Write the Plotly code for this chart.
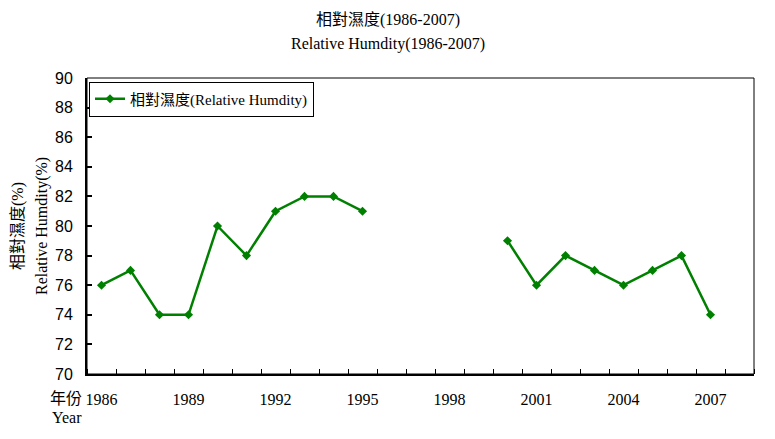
import plotly.graph_objects as go

years = list(range(1986, 2009))
humidity = [76, 77, 74, 74, 80, 78, 81, 82, 82, 81,
            None, None, None, None,
            79, 76, 78, 77, 76, 77, 78, 74, None]
tick_years = [1986, 1989, 1992, 1995, 1998, 2001, 2004, 2007]
y_ticks = list(range(70, 91, 2))

SERIF = "Liberation Serif, Noto Sans CJK TC, serif"
SANS = "Liberation Sans, Arial, sans-serif"
GREEN = "#008000"

# page body has an 8px offset
OFF = 8
W, H = 775 - OFF, 439 - OFF
PL, PR, PT, PB = 87, 754, 78, 374  # plot area in window pixels
L, T = PL - OFF, PT - OFF
R = W - (PR - OFF)
B = H - (PB - OFF)

fig = go.Figure()
fig.add_trace(go.Scatter(
    x=years, y=humidity, mode="lines+markers",
    name="相對濕度(Relative Humdity)",
    line=dict(color=GREEN, width=2.5),
    marker=dict(symbol="diamond", size=7, color=GREEN),
    connectgaps=False,
))

fig.update_layout(
    width=W, height=H,
    margin=dict(l=L, r=R, t=T, b=B, autoexpand=False),
    paper_bgcolor="white", plot_bgcolor="white",
    showlegend=True,
    legend=dict(x=0.003, y=0.988, xanchor="left", yanchor="top",
                bordercolor="black", borderwidth=1, bgcolor="white",
                font=dict(family=SERIF, size=15, color="black"),
                itemwidth=30, tracegroupgap=0),
    xaxis=dict(
        range=[1985.5, 2008.5], tickvals=tick_years,
        ticktext=[str(v) for v in tick_years],
        ticks="", showgrid=False, zeroline=False,
        showline=True, linecolor="black", linewidth=2,
        tickfont=dict(family=SERIF, size=16, color="black"),
        ticklabelstandoff=10,
        minor=dict(ticks="inside", ticklen=5, tick0=1985.5, dtick=1,
                   tickcolor="black", tickwidth=1, showgrid=False),
        fixedrange=True,
    ),
    yaxis=dict(
        range=[70, 90], tickvals=y_ticks,
        ticks="inside", ticklen=5, tickcolor="black", tickwidth=2,
        showgrid=False, zeroline=False,
        showline=True, linecolor="black", linewidth=2,
        tickfont=dict(family=SANS, size=16, color="black"),
        ticklabelstandoff=9,
        fixedrange=True,
    ),
)

fig.add_shape(type="rect", xref="paper", yref="paper", x0=0, x1=1, y0=0, y1=1,
              line=dict(color="black", width=1), layer="above")


def px_x(x):
    return (x - PL) / (PR - PL)


def px_y(y):
    return (PB - y) / (PB - PT)


annos = [
    dict(text="相對濕度(1986-2007)", x=388, y=20),
    dict(text="Relative Humdity(1986-2007)", x=388, y=44),
    dict(text="年份", x=66, y=398),
    dict(text="Year", x=67, y=417),
]
for a in annos:
    fig.add_annotation(text=a["text"], xref="paper", yref="paper",
                       x=px_x(a["x"]), y=px_y(a["y"]),
                       showarrow=False, xanchor="center", yanchor="middle",
                       font=dict(family=SERIF, size=16, color="black"))
for txt, xpx in [("相對濕度(%)", 18), ("Relative Humdity(%)", 42)]:
    fig.add_annotation(text=txt, xref="paper", yref="paper",
                       x=px_x(xpx), y=px_y(226),
                       showarrow=False, xanchor="center", yanchor="middle",
                       textangle=-90,
                       font=dict(family=SERIF, size=16, color="black"))

fig.write_html("out.html", config={"displayModeBar": False})
